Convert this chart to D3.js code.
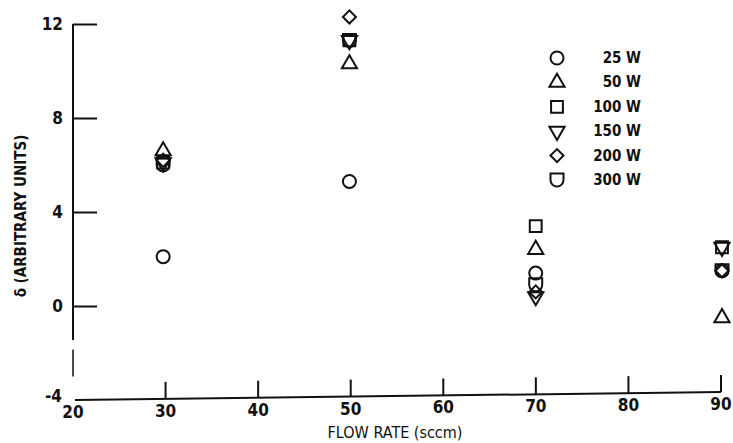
<!DOCTYPE html>
<html>
<head>
<meta charset="utf-8">
<script src="https://cdn.jsdelivr.net/npm/d3@7"></script>
<style>
  body { margin: 0; background: #fff; }
  svg { display: block; }
  text { font-family: "DejaVu Sans Condensed", "DejaVu Sans", sans-serif; font-stretch: condensed; fill: #111; }
</style>
</head>
<body>
<div id="chart"></div>
<script>
// flow rate categories (sccm)
const flowRates = [30, 50, 70, 90];

// delta values per RF power series, same order as flowRates
const series = ['25 W', '50 W', '100 W', '150 W', '200 W', '300 W'];
const w25  = [2.1, 5.3, 1.4, 1.5];
const w50  = [6.6, 10.3, 2.4, -0.5];
const w100 = [6.1, 11.3, 3.4, 2.5];
const w150 = [6.1, 11.3, 0.4, 2.5];
const w200 = [6.2, 12.3, 0.6, 1.5];
const w300 = [6.0, 11.3, 0.9, 1.5];
const values = [w25, w50, w100, w150, w200, w300];

const xTicks = [20, 30, 40, 50, 60, 70, 80, 90];
const yTicks = [-4, 0, 4, 8, 12];

const width = 733, height = 443;
const margin = { top: 24, right: 12, bottom: 43, left: 73 };

const svg = d3.select('#chart')
    .append('svg')
    .attr('width', width)
    .attr('height', height);

const x = d3.scaleLinear()
    .domain([20, 90])
    .range([margin.left, width - margin.right]);

const y = d3.scaleLinear()
    .domain([-4, 12])
    .range([height - margin.bottom, margin.top]);

// Y axis (broken line near the bottom, as in the original)
const axisColor = '#111';
svg.append('line')
    .attr('x1', x(20)).attr('x2', x(20))
    .attr('y1', y(12)).attr('y2', y(-1.45))
    .attr('stroke', axisColor).attr('stroke-width', 2);
svg.append('line')
    .attr('x1', x(20)).attr('x2', x(20))
    .attr('y1', y(-1.85)).attr('y2', y(-3.0))
    .attr('stroke', axisColor).attr('stroke-width', 1.5);

const yAxis = svg.append('g')
    .attr('transform', `translate(${x(20)},0)`)
    .call(d3.axisLeft(y).tickValues(yTicks.filter(d => d > -4)).tickSize(-24).tickPadding(10));
yAxis.select('.domain').remove();
yAxis.selectAll('.tick line').attr('stroke', axisColor).attr('stroke-width', 2);
yAxis.selectAll('.tick text').attr('font-size', 17).attr('font-weight', 'bold');

// "-4" label sits at the corner
svg.append('text')
    .attr('x', x(20) - 11)
    .attr('y', y(-4))
    .attr('text-anchor', 'end')
    .attr('dy', '0.1em')
    .attr('font-size', 17)
    .attr('font-weight', 'bold')
    .text(yTicks[0]);

// X axis (slightly tilted, like the scanned original)
svg.append('line')
    .attr('x1', x(20) + 2).attr('x2', x(90))
    .attr('y1', y(-4)).attr('y2', y(-4) - 8)
    .attr('stroke', axisColor).attr('stroke-width', 2);

const xAxis = svg.append('g')
    .attr('transform', `translate(0,${y(-4)})`)
    .call(d3.axisBottom(x).tickValues(xTicks).tickSize(0).tickPadding(6));
xAxis.select('.domain').remove();
xAxis.selectAll('.tick')
    .attr('transform', d => `translate(${x(d)},${-(d - 20) / 70 * 8})`);
xAxis.selectAll('.tick text').attr('font-size', 17).attr('font-weight', 'bold');
xAxis.selectAll('.tick')
    .filter(d => d > 20)
    .append('line')
    .attr('y1', 0).attr('y2', -17)
    .attr('stroke', axisColor).attr('stroke-width', 2);

// Axis titles
svg.append('text')
    .attr('x', 395)
    .attr('y', 438)
    .attr('text-anchor', 'middle')
    .attr('font-size', 16)
    .text('FLOW RATE (sccm)');

svg.append('text')
    .attr('transform', `translate(26,${(y(12) + y(-4)) / 2 + 4}) rotate(-90)`)
    .attr('text-anchor', 'middle')
    .attr('font-size', 15)
    .attr('font-weight', 'bold')
    .text('\u03b4 (ARBITRARY UNITS)');

// Marker shapes
const s = 6.5;
const shapes = [
    d3.symbol().type(d3.symbolCircle).size(Math.PI * s * s)(),
    d3.symbol().type(d3.symbolTriangle).size(100)(),
    d3.symbol().type(d3.symbolSquare).size(140)(),
    d3.symbol().type(d3.symbolTriangle).size(100)(),
    d3.symbol().type(d3.symbolSquare).size(85)(),
    `M${-s},${-s}L${s},${-s}L${s},0A${s},${s} 0 0 1 ${-s},0Z`
];
const rotations = [0, 0, 0, 180, 45, 0];

// Data points
const points = svg.append('g');
values.forEach((vals, si) => {
    points.selectAll(null)
        .data(vals.map((v, i) => ({ f: flowRates[i], v })))
        .enter()
        .append('path')
        .attr('d', shapes[si])
        .attr('transform', d => `translate(${x(d.f) - 3 + (d.f - 20) / 70 * 4},${y(d.v)}) rotate(${rotations[si]})`)
        .attr('fill', 'none')
        .attr('stroke', '#111')
        .attr('stroke-width', 2);
});

// Legend
const legend = svg.append('g').attr('transform', 'translate(557,58)');
series.forEach((name, i) => {
    const row = legend.append('g').attr('transform', `translate(0,${i * 24.4})`);
    row.append('path')
        .attr('d', shapes[i])
        .attr('transform', `rotate(${rotations[i]})`)
        .attr('fill', 'none')
        .attr('stroke', '#111')
        .attr('stroke-width', 2);
    row.append('text')
        .attr('x', 84)
        .attr('y', 5)
        .attr('text-anchor', 'end')
        .attr('font-size', 15)
        .attr('font-weight', 'bold')
        .text(name);
});
</script>
</body>
</html>
